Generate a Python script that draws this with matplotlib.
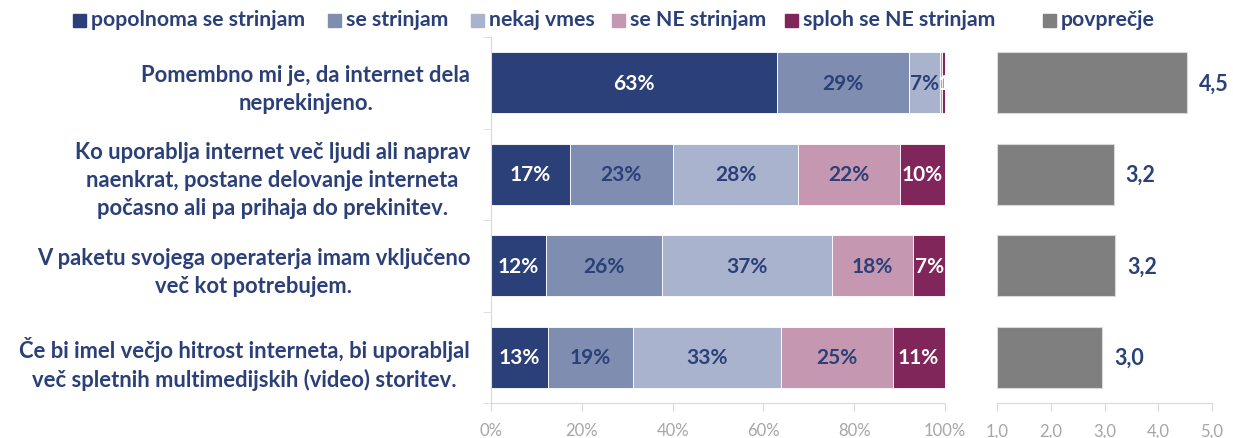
import matplotlib
matplotlib.use("Agg")
import numpy as np
import matplotlib.pyplot as plt
from matplotlib.patches import Rectangle

# Data
questions = [
    "Pomembno mi je, da internet dela\nneprekinjeno.",
    "Ko uporablja internet več ljudi ali naprav\nnaenkrat, postane delovanje interneta\npočasno ali pa prihaja do prekinitev.",
    "V paketu svojega operaterja imam vključeno\nveč kot potrebujem.",
    "Če bi imel večjo hitrost interneta, bi uporabljal\nveč spletnih multimedijskih (video) storitev.",
]
answers = ["popolnoma se strinjam", "se strinjam", "nekaj vmes", "se NE strinjam", "sploh se NE strinjam"]
fully_agree = [63.0, 17.4, 12.1, 12.6]
agree = [29.0, 22.6, 25.6, 18.7]
neutral = [7.0, 27.7, 37.4, 32.6]
disagree = [0.4, 22.3, 17.9, 24.6]
fully_disagree = [0.6, 10.0, 7.0, 11.4]
averages = [4.53, 3.17, 3.20, 2.96]
avg_labels = ["4,5", "3,2", "3,2", "3,0"]

colors = ["#2B4078", "#7F8DB0", "#A9B3CD", "#C597B0", "#80265A"]
text_colors = ["white", "#2B4078", "#2B4078", "#2B4078", "white"]
navy = "#2B4078"
grey = "#7F7F7F"
axis_grey = "#D9D9D9"
tick_grey = "#A6A6A6"

plt.rcParams["font.family"] = ["Lato", "DejaVu Sans"]

fig = plt.figure(figsize=(12.33, 4.39), dpi=100)
ax = fig.add_axes([491 / 1233, 1 - 404 / 439, 454 / 1233, 366 / 439])
ax2 = fig.add_axes([997 / 1233, 1 - 404 / 439, 215 / 1233, 366 / 439])

y = np.arange(len(questions))
series = [fully_agree, agree, neutral, disagree, fully_disagree]
left = np.zeros(len(questions))
for vals, col, tcol in zip(series, colors, text_colors):
    vals = np.array(vals)
    ax.barh(y, vals, left=left, height=0.67, color=col, edgecolor="white", linewidth=0.6)
    for yi, v, l in zip(y, vals, left):
        if round(v) < 1:
            continue
        txt = f"{v:.0f}%" if v >= 3 else f"{v:.0f}"
        ax.text(l + v / 2, yi, txt, ha="center", va="center", color=tcol,
                fontsize=15, fontweight="bold")
    left += vals

ax.set_xlim(0, 100)
ax.set_ylim(len(questions) - 0.5, -0.5)
ax.set_xticks(np.arange(0, 101, 20))
ax.set_xticklabels([f"{t}%" for t in range(0, 101, 20)])
ax.set_yticks(y)
ax.set_yticklabels(questions, fontsize=15.8, fontweight="bold", color=navy,
                   linespacing=1.4, multialignment="center")
ax.set_yticks(np.arange(-0.5, len(questions), 1), minor=True)
ax.tick_params(axis="y", which="major", length=0, pad=15)
ax.tick_params(axis="y", which="minor", length=6, color=axis_grey)
ax.tick_params(axis="x", length=6, color=axis_grey, labelcolor=tick_grey, labelsize=12, pad=8)
for s in ["top", "right"]:
    ax.spines[s].set_visible(False)
for s in ["left", "bottom"]:
    ax.spines[s].set_color(axis_grey)

ax2.barh(y, np.array(averages) - 1, left=1, height=0.67, color=grey, edgecolor=axis_grey, linewidth=0.8)
for yi, v, lab in zip(y, averages, avg_labels):
    ax2.text(v + 0.22, yi, lab, ha="left", va="center", color=navy, fontsize=15.5, fontweight="bold")
ax2.set_xlim(1, 5)
ax2.set_ylim(len(questions) - 0.5, -0.5)
ax2.set_xticks(np.arange(1, 5.1, 1))
ax2.set_xticklabels([f"{t:.1f}".replace(".", ",") for t in np.arange(1, 5.1, 1)])
ax2.set_yticks([])
ax2.tick_params(axis="x", length=6, color=axis_grey, labelcolor=tick_grey, labelsize=12, pad=8)
for s in ["top", "right", "left"]:
    ax2.spines[s].set_visible(False)
ax2.spines["bottom"].set_color(axis_grey)

# legend along the top
leg_x = [73, 328, 471, 612, 785]
for name, col, px in zip(answers + ["povprečje"], colors + [grey], leg_x + [1043]):
    fig.patches.append(Rectangle((px / 1233, 1 - 28 / 439), 13 / 1233, 13 / 439,
                                 transform=fig.transFigure, color=col))
    fig.text((px + 18) / 1233, 1 - 20 / 439, name, ha="left", va="center",
             color=navy, fontsize=15.3, fontweight="bold")

fig.savefig("out.png", dpi=100)
